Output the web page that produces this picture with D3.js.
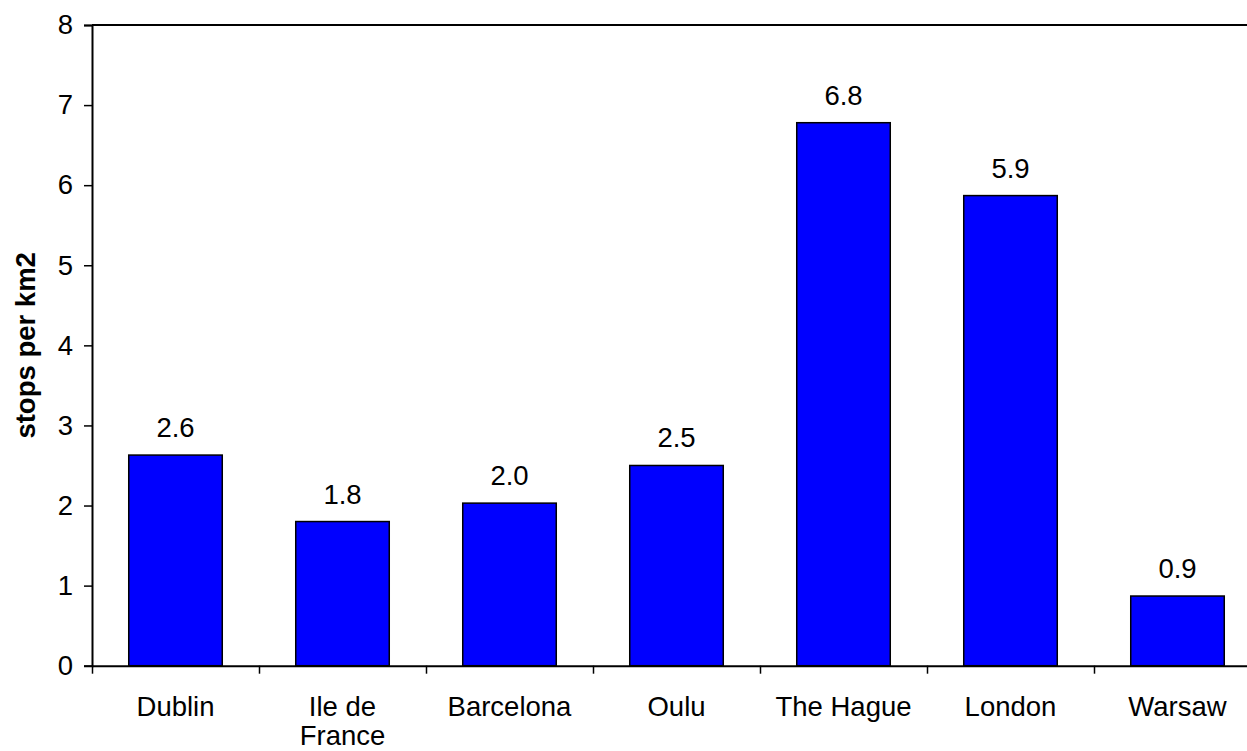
<!DOCTYPE html>
<html>
<head>
<meta charset="utf-8">
<script src="https://cdn.jsdelivr.net/npm/d3@7"></script>
<style>
  html, body { margin: 0; padding: 0; background: #fff; }
  svg { display: block; }
  text { font-family: "Liberation Sans", Arial, sans-serif; fill: #000; }
</style>
</head>
<body>
<svg id="chart" width="1247" height="751"></svg>
<script>
// Bus stop density by city
const categories = ["Dublin", "Ile de France", "Barcelona", "Oulu", "The Hague", "London", "Warsaw"];
const stopsPerKm2 = [2.63, 1.80, 2.03, 2.50, 6.78, 5.87, 0.87];
const yTicks = [0, 1, 2, 3, 4, 5, 6, 7, 8];
const categoryLines = {
  "Ile de France": ["Ile de", "France"]
};
const yTitle = "stops per km2";

const svg = d3.select("#chart");
const plotLeft = 92, plotRight = 1261, plotTop = 25, plotBottom = 665.7;
const fontSize = 27.5;

const x = d3.scaleBand()
  .domain(categories)
  .range([plotLeft, plotRight])
  .paddingInner(0.44)
  .paddingOuter(0.22);

const y = d3.scaleLinear()
  .domain([0, 8])
  .range([plotBottom, plotTop]);

// plot frame (top border)
svg.append("line")
  .attr("x1", plotLeft).attr("x2", plotRight)
  .attr("y1", plotTop).attr("y2", plotTop)
  .attr("stroke", "#000").attr("stroke-width", 2);

// bars
svg.append("g").selectAll("rect")
  .data(categories)
  .join("rect")
  .attr("x", d => x(d))
  .attr("width", x.bandwidth())
  .attr("y", (d, i) => y(stopsPerKm2[i]))
  .attr("height", (d, i) => y(0) - y(stopsPerKm2[i]))
  .attr("fill", "#0000ff")
  .attr("stroke", "#000")
  .attr("stroke-width", 1.5);

// value labels
svg.append("g").selectAll("text")
  .data(categories)
  .join("text")
  .attr("x", d => x(d) + x.bandwidth() / 2)
  .attr("y", (d, i) => y(stopsPerKm2[i]) - 18)
  .attr("text-anchor", "middle")
  .attr("font-size", fontSize)
  .text((d, i) => d3.format(".1f")(stopsPerKm2[i]));

// y axis
const yAxis = svg.append("g")
  .attr("transform", `translate(${plotLeft},0)`)
  .call(d3.axisLeft(y).tickValues(yTicks).tickFormat(d3.format("d")).tickSize(8).tickPadding(11));
yAxis.select(".domain").attr("stroke-width", 2);
yAxis.selectAll(".tick line").attr("stroke-width", 1.5);
yAxis.selectAll(".tick text")
  .attr("font-size", fontSize)
  .attr("font-family", "Liberation Sans, Arial, sans-serif")
  .attr("fill", "#000");

// x axis: ticks at category boundaries
const boundary = d3.scaleLinear().domain([0, categories.length]).range([plotLeft, plotRight]);
const xAxis = svg.append("g")
  .attr("transform", `translate(0,${plotBottom})`)
  .call(d3.axisBottom(boundary).tickValues(d3.range(0, categories.length + 1)).tickFormat("").tickSize(8).tickSizeOuter(0));
xAxis.select(".domain").attr("stroke-width", 2);
xAxis.selectAll(".tick line").attr("stroke-width", 1.5);

// category labels
const labels = svg.append("g").selectAll("text")
  .data(categories)
  .join("text")
  .attr("x", d => x(d) + x.bandwidth() / 2)
  .attr("y", plotBottom + 50)
  .attr("text-anchor", "middle")
  .attr("font-size", fontSize);
labels.each(function(d) {
  const lines = categoryLines[d] || [d];
  const t = d3.select(this);
  lines.forEach((ln, k) => {
    t.append("tspan")
      .attr("x", x(d) + x.bandwidth() / 2)
      .attr("dy", k === 0 ? 0 : 29.5)
      .text(ln);
  });
});

// y axis title
svg.append("text")
  .attr("transform", `translate(35,${(plotTop + plotBottom) / 2}) rotate(-90)`)
  .attr("text-anchor", "middle")
  .attr("font-size", fontSize)
  .attr("font-weight", "bold")
  .text(yTitle);
</script>
</body>
</html>
